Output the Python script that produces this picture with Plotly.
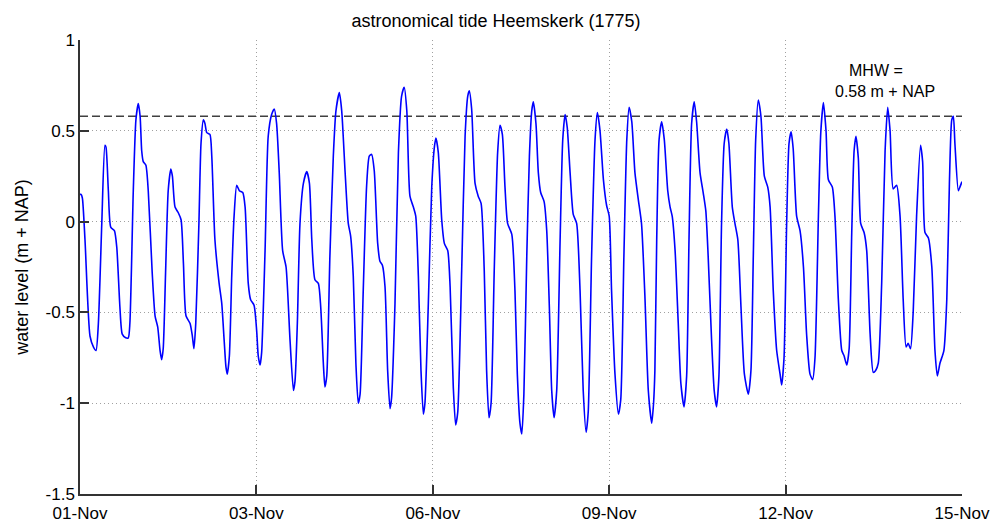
import plotly.graph_objects as go

# time in hours since 01-Nov 00:00, water level in m + NAP
hours = [0.0, 0.4, 0.9, 1.9, 3.8, 5.1, 6.1, 7.0, 8.3, 9.5, 9.9, 10.8, 11.7, 13.1, 14.0, 15.2, 16.1, 17.4, 18.4, 19.0,
         20.3, 21.3, 22.2, 22.9, 23.5, 24.1, 25.1, 26.0, 27.5, 28.6, 29.6, 30.5, 31.1, 31.7, 32.6, 33.6, 34.6, 35.2, 36.2, 37.4,
         38.5, 39.4, 40.4, 41.9, 42.8, 43.4, 44.1, 45.3, 46.1, 47.0, 47.6, 48.3, 49.5, 50.2, 51.4, 53.0, 54.0, 54.9, 55.6, 56.1,
         56.9, 57.8, 58.7, 59.7, 60.7, 62.0, 62.9, 64.1, 65.0, 66.3, 67.3, 67.9, 68.6, 69.2, 70.5, 71.7, 73.0, 74.0, 74.9, 75.9,
         77.2, 78.5, 80.0, 81.3, 81.9, 82.8, 83.8, 85.1, 86.4, 87.4, 88.3, 89.5, 90.8, 91.7, 92.7, 93.3, 94.0, 95.2, 96.5, 97.5,
         98.8, 99.7, 101.0, 102.2, 103.1, 104.1, 105.1, 106.0, 106.7, 107.9, 109.2, 110.2, 111.1, 112.1, 113.4, 114.3, 115.2, 116.2, 117.2, 118.1,
         118.7, 120.0, 121.3, 122.5, 123.5, 124.5, 125.7, 127.0, 127.9, 128.9, 129.9, 130.8, 131.4, 132.7, 134.0, 135.0, 135.6, 136.5, 137.8, 138.8,
         140.1, 141.0, 142.2, 143.1, 143.9, 145.4, 146.7, 147.7, 148.3, 149.2, 150.5, 151.7, 152.8, 154.0, 154.9, 155.8, 156.6, 157.8, 159.1, 160.0,
         160.9, 161.9, 162.9, 164.5, 165.7, 166.6, 167.6, 168.3, 169.1, 170.2, 171.2, 172.1, 172.7, 173.7, 174.6, 175.5, 176.8, 177.8, 178.8, 179.7,
         180.6, 181.6, 182.9, 183.9, 184.8, 185.6, 186.7, 187.9, 189.2, 190.5, 191.7, 192.8, 193.6, 194.9, 196.2, 197.1, 198.1, 199.4, 200.6, 201.6,
         202.5, 203.8, 205.1, 206.0, 207.2, 208.3, 209.2, 210.2, 211.4, 212.7, 213.9, 215.2, 216.5, 217.8, 218.5, 219.0, 219.7, 220.6, 221.6, 222.6,
         223.9, 224.8, 225.6, 226.7, 227.9, 228.9, 230.1, 231.1, 232.0, 233.0, 234.0, 234.9, 236.2, 237.4, 238.4, 239.3, 240.6, 241.6, 242.5, 243.4,
         244.4, 245.4, 246.4, 247.2, 248.5, 249.5, 250.6, 251.8, 253.1, 254.6, 255.6, 256.5, 257.4, 258.4, 259.4, 260.7, 262.0, 262.9, 264.1, 265.4,
         266.7, 267.3, 268.2, 269.2, 270.1, 270.9, 271.7, 273.0, 274.3, 275.6, 276.8, 278.1, 279.1, 280.0, 281.3, 282.2, 283.2, 284.2, 285.1, 286.6,
         287.6, 288.9, 290.2, 291.1, 292.1, 293.0, 294.0, 294.9, 295.6, 296.5, 297.4, 298.7, 299.7, 301.0, 302.2, 303.1, 304.1, 305.4, 306.7, 307.7,
         308.6, 309.8, 311.1, 312.4, 313.6, 314.7, 315.5, 316.4, 317.4, 318.7, 320.2, 321.0, 321.9, 323.2, 324.5, 325.7, 326.6, 327.6, 329.1, 330.2,
         331.2, 332.1, 332.7, 333.3, 334.6, 335.2, 336.0]

water_level = [0.15, 0.15, 0.13, -0.10, -0.63, -0.69, -0.71, -0.56, -0.01, 0.42, 0.41, 0.17, -0.03, -0.05, -0.14, -0.47, -0.62, -0.64, -0.64, -0.56,
               0.17, 0.56, 0.65, 0.58, 0.39, 0.33, 0.31, 0.17, -0.28, -0.52, -0.58, -0.71, -0.76, -0.70, -0.28, 0.17, 0.29, 0.25, 0.08, 0.05,
               0.01, -0.23, -0.52, -0.56, -0.63, -0.70, -0.56, -0.01, 0.43, 0.56, 0.54, 0.49, 0.48, 0.36, -0.10, -0.34, -0.45, -0.65, -0.80, -0.84,
               -0.74, -0.30, 0.03, 0.20, 0.17, 0.16, 0.08, -0.34, -0.43, -0.46, -0.60, -0.74, -0.79, -0.72, -0.16, 0.47, 0.59, 0.62, 0.54, 0.27,
               -0.16, -0.25, -0.65, -0.93, -0.88, -0.56, -0.01, 0.21, 0.275, 0.21, -0.10, -0.32, -0.34, -0.47, -0.78, -0.91, -0.85, -0.19, 0.36, 0.61,
               0.71, 0.61, 0.27, -0.01, -0.08, -0.30, -0.78, -1.00, -0.95, -0.38, 0.20, 0.36, 0.37, 0.28, -0.12, -0.22, -0.24, -0.36, -0.82, -1.03,
               -0.97, -0.45, 0.38, 0.69, 0.74, 0.61, 0.14, 0.08, 0.03, -0.30, -0.82, -1.06, -1.00, -0.45, 0.19, 0.41, 0.46, 0.38, 0.01, -0.12,
               -0.16, -0.36, -0.91, -1.12, -1.05, -0.27, 0.47, 0.69, 0.72, 0.62, 0.21, 0.14, 0.10, -0.27, -0.82, -1.08, -1.00, -0.27, 0.38, 0.53,
               0.48, 0.19, -0.01, -0.07, -0.38, -0.84, -1.11, -1.17, -0.95, -0.19, 0.36, 0.61, 0.66, 0.54, 0.27, 0.16, 0.11, -0.05, -0.47, -0.93,
               -1.08, -0.93, -0.10, 0.45, 0.59, 0.52, 0.27, 0.04, -0.01, -0.38, -0.93, -1.16, -1.05, -0.19, 0.45, 0.60, 0.50, 0.23, 0.09, 0.03,
               -0.38, -0.84, -1.06, -0.98, -0.19, 0.45, 0.63, 0.55, 0.27, 0.12, -0.01, -0.41, -0.93, -1.11, -1.00, -0.82, -0.10, 0.45, 0.55, 0.45,
               0.17, 0.08, 0.03, -0.16, -0.56, -0.89, -1.02, -0.85, -0.10, 0.54, 0.66, 0.55, 0.27, 0.16, 0.06, -0.19, -0.65, -0.93, -1.02, -0.85,
               -0.01, 0.43, 0.51, 0.43, 0.08, -0.01, -0.10, -0.47, -0.84, -0.95, -0.82, -0.19, 0.45, 0.67, 0.58, 0.25, 0.19, 0.08, -0.38, -0.71,
               -0.84, -0.90, -0.75, -0.01, 0.43, 0.495, 0.40, 0.03, -0.05, -0.25, -0.62, -0.84, -0.87, -0.75, 0.03, 0.49, 0.655, 0.50, 0.23, 0.19,
               0.03, -0.43, -0.71, -0.74, -0.79, -0.70, -0.06, 0.39, 0.47, 0.35, -0.01, -0.06, -0.16, -0.62, -0.83, -0.82, -0.78, -0.34, 0.39, 0.63,
               0.50, 0.18, 0.20, 0.03, -0.43, -0.69, -0.67, -0.70, -0.50, 0.03, 0.42, 0.33, -0.06, -0.09, -0.25, -0.71, -0.85, -0.78, -0.71, -0.43,
               0.21, 0.56, 0.58, 0.43, 0.17, 0.19, 0.22]

mhw = 0.58
x_tick_hours = [0, 67.2, 134.4, 201.6, 268.8, 336]
x_tick_labels = ["01-Nov", "03-Nov", "06-Nov", "09-Nov", "12-Nov", "15-Nov"]
y_tick_vals = [-1.5, -1, -0.5, 0, 0.5, 1]
y_tick_labels = ["-1.5", "-1", "-0.5", "0", "0.5", "1"]

FONT = "Liberation Sans, Arial, sans-serif"

fig = go.Figure()
fig.add_trace(go.Scatter(
    x=[hours[0], hours[-1]], y=[mhw, mhw], mode="lines",
    line=dict(color="#404040", width=1.5, dash="8px,4px"),
    hoverinfo="skip", showlegend=False))
fig.add_trace(go.Scatter(
    x=hours, y=water_level, mode="lines",
    line=dict(color="#0000FF", width=1.6, shape="spline", smoothing=0.6),
    showlegend=False))

fig.update_layout(
    width=992, height=523, autosize=False,
    margin=dict(l=80, r=30, t=40, b=29, autoexpand=False),
    paper_bgcolor="white", plot_bgcolor="white",
    font=dict(family=FONT, size=17, color="black"),
    title=dict(text="astronomical tide Heemskerk (1775)", x=0.5, xanchor="center",
               y=0.96, yanchor="middle", font=dict(size=18)),
    annotations=[
        dict(text="MHW =", x=0.902, y=1.0, xref="paper", yref="paper",
             xanchor="center", yanchor="middle", showarrow=False,
             font=dict(size=16, family=FONT), yshift=-30),
        dict(text="0.58 m + NAP", x=0.913, y=1.0, xref="paper", yref="paper",
             xanchor="center", yanchor="middle", showarrow=False,
             font=dict(size=16, family=FONT), yshift=-51),
    ],
)
fig.update_xaxes(
    range=[0, 336], tickvals=x_tick_hours, ticktext=x_tick_labels,
    showgrid=True, gridcolor="#a0a0a0", griddash="1px,3px", gridwidth=1,
    showline=True, linecolor="#333333", linewidth=1.5,
    ticks="inside", ticklen=9, tickcolor="#333333", tickwidth=1.5,
    zeroline=False, mirror=False, automargin=False, ticklabelstandoff=3)
fig.update_yaxes(
    range=[-1.5, 1], tickvals=y_tick_vals, ticktext=y_tick_labels,
    showgrid=True, gridcolor="#a0a0a0", griddash="1px,3px", gridwidth=1,
    showline=True, linecolor="#333333", linewidth=1.5,
    ticks="inside", ticklen=9, tickcolor="#333333", tickwidth=1.5,
    zeroline=False, mirror=False, automargin=False,
    title=dict(text="water level (m + NAP)", font=dict(size=18), standoff=12))

fig.write_html("out.html")
